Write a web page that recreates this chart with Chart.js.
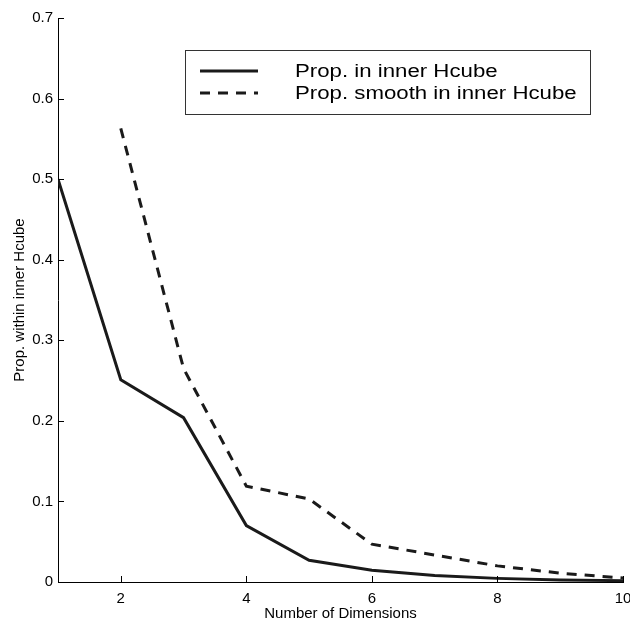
<!DOCTYPE html>
<html>
<head>
<meta charset="utf-8">
<script src="https://cdn.jsdelivr.net/npm/chart.js@4/dist/chart.umd.min.js"></script>
<style>
  html, body { margin: 0; padding: 0; background: #fff; }
  #chart { display: block; }
</style>
</head>
<body>
<canvas id="chart" width="630" height="620"></canvas>
<script>
// values
const dimensions = [1, 2, 3, 4, 5, 6, 7, 8, 9, 10];
const propInner = [0.5, 0.251, 0.204, 0.07, 0.027, 0.0145, 0.008, 0.0045, 0.0025, 0.0017];
const propSmooth = [null, 0.563, 0.265, 0.119, 0.103, 0.047, 0.0335, 0.02, 0.011, 0.005];
const seriesLabels = ['Prop. in inner Hcube', 'Prop. smooth in inner Hcube'];
const xTicks = [2, 4, 6, 8, 10];
const yTicks = [0, 0.1, 0.2, 0.3, 0.4, 0.5, 0.6, 0.7];

const lineColor = '#1a1a1a';
const dashPattern = [10, 8];
const fontFamily = '"Liberation Sans", Arial, Helvetica, sans-serif';

function toPoints(values) {
    return dimensions
        .map((d, i) => ({ x: d, y: values[i] }))
        .filter(p => p.y !== null);
}

// MATLAB-style inward tick marks
const innerTicks = {
    id: 'innerTicks',
    afterDraw(chart) {
        const ctx = chart.ctx;
        const x = chart.scales.x;
        const y = chart.scales.y;
        const area = chart.chartArea;
        const len = 6;
        ctx.save();
        ctx.strokeStyle = '#000';
        ctx.lineWidth = 1;
        ctx.beginPath();
        xTicks.forEach(v => {
            const px = Math.round(x.getPixelForValue(v)) + 0.5;
            ctx.moveTo(px, area.bottom);
            ctx.lineTo(px, area.bottom - len);
        });
        yTicks.forEach(v => {
            const py = Math.round(y.getPixelForValue(v)) + 0.5;
            ctx.moveTo(area.left, py);
            ctx.lineTo(area.left + len, py);
        });
        ctx.stroke();
        ctx.restore();
    }
};

// boxed legend in the upper right
const boxLegend = {
    id: 'boxLegend',
    afterDraw(chart) {
        const ctx = chart.ctx;
        const box = { left: 185.5, top: 50.5, width: 405, height: 64 };
        const rows = [71, 93];
        ctx.save();
        ctx.fillStyle = '#fff';
        ctx.fillRect(box.left, box.top, box.width, box.height);
        ctx.strokeStyle = '#333';
        ctx.lineWidth = 1;
        ctx.strokeRect(box.left, box.top, box.width, box.height);

        chart.data.datasets.forEach((ds, i) => {
            const yRow = rows[i];
            ctx.beginPath();
            ctx.strokeStyle = ds.borderColor;
            ctx.lineWidth = 3;
            ctx.setLineDash(ds.borderDash || []);
            ctx.moveTo(200, yRow);
            ctx.lineTo(258, yRow);
            ctx.stroke();
            ctx.setLineDash([]);

            ctx.save();
            ctx.translate(295, yRow + 1.5);
            ctx.scale(1.27, 1);
            ctx.fillStyle = '#000';
            ctx.font = '17.5px ' + fontFamily;
            ctx.textBaseline = 'middle';
            ctx.fillText(ds.label, 0, 0);
            ctx.restore();
        });
        ctx.restore();
    }
};

new Chart(document.getElementById('chart'), {
    type: 'line',
    data: {
        datasets: [
            {
                label: seriesLabels[0],
                data: toPoints(propInner),
                borderColor: lineColor,
                borderWidth: 3,
                fill: false
            },
            {
                label: seriesLabels[1],
                data: toPoints(propSmooth),
                borderColor: lineColor,
                borderWidth: 3,
                borderDash: dashPattern,
                fill: false
            }
        ]
    },
    options: {
        animation: false,
        responsive: false,
        devicePixelRatio: 1,
        layout: { padding: { top: 18, right: 7, left: 0, bottom: 0 } },
        elements: { point: { radius: 0 }, line: { tension: 0 } },
        plugins: { legend: { display: false }, tooltip: { enabled: false } },
        scales: {
            x: {
                type: 'linear',
                min: 1,
                max: 10,
                afterBuildTicks: s => { s.ticks = xTicks.map(v => ({ value: v })); },
                afterFit: s => { s.height = 38; s.paddingLeft = 0; s.paddingRight = 0; },
                grid: { drawOnChartArea: false, drawTicks: false },
                border: { color: '#000', width: 1 },
                ticks: {
                    color: '#000',
                    font: { family: fontFamily, size: 15 },
                    padding: 8,
                    maxRotation: 0,
                    autoSkip: false,
                    callback: v => String(v)
                },
                title: {
                    display: true,
                    text: 'Number of Dimensions',
                    color: '#000',
                    font: { family: fontFamily, size: 15 },
                    padding: { top: 0, bottom: -3 }
                }
            },
            y: {
                type: 'linear',
                min: 0,
                max: 0.7,
                afterBuildTicks: s => { s.ticks = yTicks.map(v => ({ value: v })); },
                afterFit: s => { s.width = 58; s.paddingTop = 0; s.paddingBottom = 0; },
                grid: { drawOnChartArea: false, drawTicks: false },
                border: { color: '#000', width: 1 },
                ticks: {
                    color: '#000',
                    font: { family: fontFamily, size: 15 },
                    padding: 5,
                    autoSkip: false,
                    callback: v => String(Math.round(v * 10) / 10)
                },
                title: {
                    display: true,
                    text: 'Prop. within inner Hcube',
                    color: '#000',
                    font: { family: fontFamily, size: 15 },
                    padding: { top: 11, bottom: 0 }
                }
            }
        }
    },
    plugins: [innerTicks, boxLegend]
});
</script>
</body>
</html>
